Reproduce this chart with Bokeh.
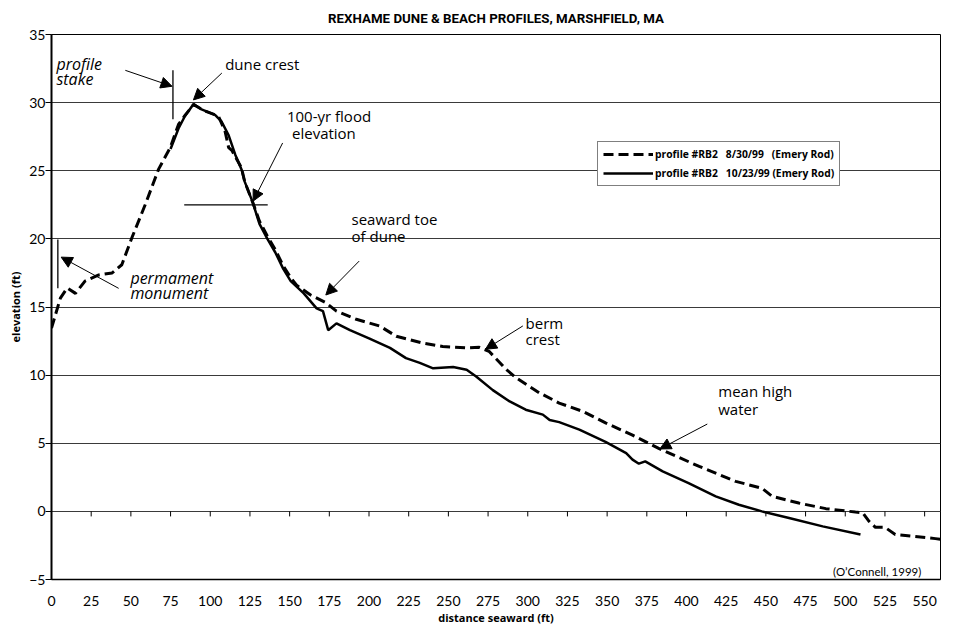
from bokeh.plotting import figure
from bokeh.models import (Range1d, FixedTicker, Arrow, NormalHead, Label, Legend,
                          LegendItem, ColumnDataSource)
from bokeh.embed import file_html
from bokeh.resources import INLINE

# ---- data ----
dist_0830 = [0, 5.6, 9.9, 15.1, 21.1, 29.8, 38.2, 44.3, 50.7, 59, 67.4, 74.8, 80, 84.3, 89.5,
             96.5, 105.2, 109.3, 111.6, 113.6, 119.7, 121.7, 126.7, 131, 136, 141, 146, 151,
             154.4, 163, 173, 179.5, 192, 206.8, 217.2, 234, 246.4, 261.5, 269.5, 275.6, 286.6,
             292.7, 307.3, 319.8, 334.6, 349, 366, 382.8, 408, 431, 447.5, 454, 470.7, 487.8,
             506.4, 511, 515, 519, 525, 531.5, 556.8, 560]
elev_0830 = [13.45, 15.65, 16.4, 16.0, 16.9, 17.35, 17.5, 18.1, 20.1, 22.5, 25.1, 26.7, 28.4, 29.1,
             29.85, 29.4, 29.0, 27.9, 26.7, 26.5, 25.2, 24.2, 22.7, 21.3, 20.2, 19.2, 18.0, 17.1,
             16.6, 15.9, 15.3, 14.7, 14.1, 13.6, 12.85, 12.35, 12.1, 12.0, 12.04, 11.75, 10.4,
             9.8, 8.7, 7.95, 7.34, 6.5, 5.6, 4.6, 3.3, 2.2, 1.7, 1.1, 0.61, 0.2,
             -0.05, -0.1, -0.73, -1.17, -1.17, -1.7, -2.0, -2.05]

dist_1023 = [75, 80, 84, 89.5, 94.5, 103, 107.2, 111.6, 115.7, 119.7, 121.7, 126.7, 131, 136, 141,
             146, 150.7, 158.9, 167, 171, 174.3, 179.5, 188, 200, 213.2, 223.3, 232, 240.4, 253,
             261.5, 267.5, 278, 288.6, 298.7, 309.5, 313.8, 319.8, 332.5, 349, 362, 366, 370, 374,
             385, 401.3, 418.4, 433, 447.5, 464.6, 485.8, 509.6]
elev_1023 = [26.6, 28.1, 29.0, 29.9, 29.5, 29.1, 28.6, 27.6, 26.2, 25.1, 24.2, 22.7, 21.1, 20.0, 19.0,
             17.8, 16.9, 16.0, 14.9, 14.7, 13.3, 13.8, 13.3, 12.7, 12.0, 11.25, 10.9, 10.5, 10.6,
             10.4, 9.9, 8.9, 8.07, 7.46, 7.1, 6.7, 6.55, 6.0, 5.1, 4.28, 3.8, 3.5, 3.67,
             2.94, 2.08, 1.1, 0.49, 0.0, -0.49, -1.1, -1.7]

x_ticks = list(range(0, 551, 25))
y_ticks = list(range(-5, 36, 5))

legend_labels = ["profile #RB2   8/30/99   (Emery Rod)",
                 "profile #RB2   10/23/99 (Emery Rod)"]

# annotation arrows (start -> tip), in data units
arrow_x0 = [46.5, 107.3, 145.6, 193.8, 296.9, 413.1, 42.3]
arrow_y0 = [32.37, 32.17, 27.04, 18.37, 13.61, 6.41, 16.37]
arrow_x1 = [75.9, 89.4, 127.0, 172.8, 273.4, 383.2, 6.1]
arrow_y1 = [31.2, 30.2, 22.77, 15.88, 11.9, 4.58, 18.66]

# marker lines: profile stake, permanent monument, 100-yr flood elevation
mark_x0 = [76.5, 4.0, 83.6]
mark_y0 = [32.37, 19.96, 22.5]
mark_x1 = [76.5, 4.0, 136.2]
mark_y1 = [28.78, 16.37, 22.5]

# annotation texts: (text, x, y, italic)
notes = [("profile", 3.1, 32.85, True), ("stake", 3.1, 31.7, True),
         ("dune crest", 109.4, 32.85, False),
         ("100-yr flood", 148.3, 29.0, False), ("elevation", 151.5, 27.75, False),
         ("seaward toe", 189.0, 21.43, False), ("of dune", 189.0, 20.2, False),
         ("berm", 298.6, 13.85, False), ("crest", 298.6, 12.64, False),
         ("mean high", 420.0, 8.85, False), ("water", 420.0, 7.5, False),
         ("permament", 49.7, 17.15, True), ("monument", 49.7, 16.0, True)]

FONT = "Lato"
NOTE_FONT = "Open Sans"

p = figure(frame_width=889, frame_height=545, x_range=Range1d(0, 560), y_range=Range1d(-5, 35),
           output_backend="svg", toolbar_location=None,
           min_border_left=51, min_border_right=6, min_border_top=33, min_border_bottom=40)
p.background_fill_color = "white"
p.border_fill_color = "white"
p.outline_line_color = "black"
p.outline_line_width = 1

p.title.text = "REXHAME DUNE & BEACH PROFILES, MARSHFIELD, MA"
p.title.align = "center"
p.title.text_font = "Roboto"
p.title.text_font_size = "13.3px"
p.title.text_font_style = "bold"
p.title.text_color = "black"
p.title.standoff = 17

p.xgrid.grid_line_color = None
p.ygrid.grid_line_color = "#3a3a3a"
p.ygrid.grid_line_width = 1

p.yaxis.ticker = FixedTicker(ticks=y_ticks)
p.yaxis.minor_tick_line_color = None
p.yaxis.major_tick_out = 6
p.yaxis.major_tick_in = 0
p.yaxis.major_label_standoff = 0
p.yaxis.axis_line_width = 2
p.yaxis.axis_label = "elevation (ft)"
p.yaxis.axis_label_standoff = 3

p.xaxis.ticker = FixedTicker(ticks=x_ticks)
p.xaxis.minor_tick_line_color = None
p.xaxis.major_tick_out = 0
p.xaxis.major_tick_in = 0
p.xaxis.major_label_standoff = 16
p.xaxis.axis_line_width = 1.5
p.xaxis.axis_label = "distance seaward (ft)"
p.xaxis.axis_label_standoff = 1

for ax in (p.xaxis, p.yaxis):
    ax.axis_line_color = "black"
    ax.major_label_text_font = FONT
    ax.major_label_text_font_size = "14px"
    ax.major_label_text_color = "black"
    ax.axis_label_text_font = "Open Sans"
    ax.axis_label_text_font_size = "11px"
    ax.axis_label_text_font_style = "bold"
    ax.axis_label_text_color = "black"
p.yaxis.major_tick_line_color = "black"
p.xaxis.major_tick_line_color = None

# small tick marks along the zero line
p.segment(x0=x_ticks, y0=[0] * len(x_ticks), x1=x_ticks, y1=[-0.37] * len(x_ticks),
          line_color="black", line_width=1)

r1 = p.line(dist_0830, elev_0830, line_color="black", line_width=3, line_dash="10 5")
r2 = p.line(dist_1023, elev_1023, line_color="black", line_width=2.5)

# marker lines
p.segment(x0=mark_x0, y0=mark_y0, x1=mark_x1, y1=mark_y1, line_color="black", line_width=1.3)

arrow_src = ColumnDataSource(dict(x0=arrow_x0, y0=arrow_y0, x1=arrow_x1, y1=arrow_y1))
p.add_layout(Arrow(source=arrow_src, x_start="x0", y_start="y0", x_end="x1", y_end="y1",
                   line_color="black", line_width=1,
                   end=NormalHead(size=11, fill_color="black", line_color="black", line_width=1)))

for txt, x, y, ital in notes:
    p.add_layout(Label(x=x, y=y, text=txt, text_font=NOTE_FONT,
                       text_font_size="16px" if ital else "15px",
                       text_font_style="italic" if ital else "normal", text_color="black",
                       text_baseline="alphabetic", text_align="left"))

p.add_layout(Label(x=547.9, y=-4.39, text="(O\u2019Connell, 1999)", text_font=FONT,
                   text_font_size="11.5px", text_color="black", text_align="right",
                   text_baseline="alphabetic"))

legend = Legend(items=[LegendItem(label=legend_labels[0], renderers=[r1]),
                       LegendItem(label=legend_labels[1], renderers=[r2])],
                location=(546, 393), orientation="vertical")
legend.glyph_width = 50
legend.glyph_height = 14
legend.label_standoff = 2
legend.padding = 5
legend.spacing = 5
legend.margin = 0
legend.label_height = 14
legend.label_text_font = "Open Sans"
legend.label_text_font_size = "10.3px"
legend.label_text_font_style = "bold"
legend.label_text_color = "black"
legend.border_line_color = "black"
legend.border_line_width = 1
legend.background_fill_color = "white"
legend.background_fill_alpha = 1
p.add_layout(legend)

open("out.html", "w").write(file_html(p, INLINE))
